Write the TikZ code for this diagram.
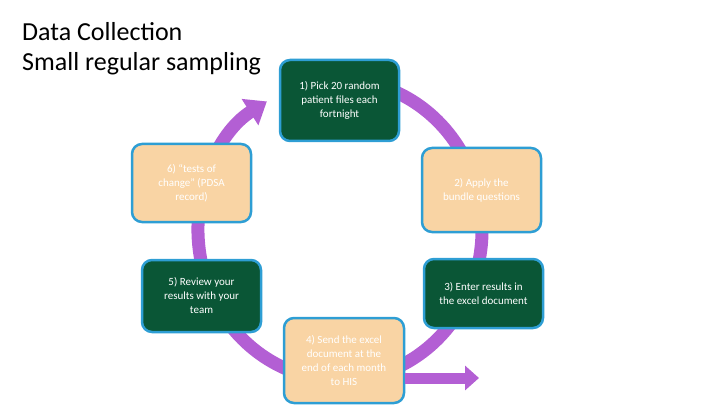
\documentclass[tikz,border=0pt]{standalone}
\usepackage{fontspec}
\setmainfont{Carlito}
\usetikzlibrary{arrows.meta}
\definecolor{ringpurple}{HTML}{B35FD4}
\definecolor{stepgreen}{HTML}{0A5636}
\definecolor{steppeach}{HTML}{F9D4A4}
\definecolor{stepblue}{HTML}{2E9ED4}
\tikzset{
  stepbox/.style={draw=stepblue, line width=2.5pt, rounded corners=10pt, text=white,
    align=center, font=\fontsize{11}{14}\selectfont, inner sep=0pt},
  dark/.style={stepbox, fill=stepgreen},
  light/.style={stepbox, fill=steppeach},
}
\begin{document}
\begin{tikzpicture}[x=1pt,y=1pt]
\useasboundingbox (0,0) rectangle (720,405);
\node[anchor=north west, align=left, font=\fontsize{26}{30}\selectfont, inner sep=0pt] (title) at (22,383) {Data Collection\\Small regular sampling};
\draw[ringpurple, line width=13pt, -{Triangle[width=30pt,length=20pt]}] (340,175) ++(460:142 and 150) arc[start angle=460, end angle=121, x radius=142, y radius=150];
\node[dark, minimum width=119pt, minimum height=81pt] (step1) at (339.5,304.5) {1) Pick 20 random\\patient files each\\fortnight};
\node[light, minimum width=119pt, minimum height=84pt] (step2) at (481.5,215) {2) Apply the\\bundle questions};
\node[dark, minimum width=119pt, minimum height=69pt] (step3) at (483.5,111.5) {3) Enter results in\\the excel document};
\node[light, minimum width=120pt, minimum height=85pt] (step4) at (344,44.5) {4) Send the excel\\document at the\\end of each month\\to HIS};
\node[dark, minimum width=119pt, minimum height=72pt] (step5) at (201.5,109) {5) Review your\\results with your\\team};
\node[light, minimum width=119pt, minimum height=78pt] (step6) at (191.5,222) {6) ``tests of\\change'' (PDSA\\record)};
\coordinate (his) at (479,27);
\draw[ringpurple, line width=11pt, -{Triangle[width=24pt,length=14pt]}] (step4.east |- his) -- (his);
\end{tikzpicture}
\end{document}
